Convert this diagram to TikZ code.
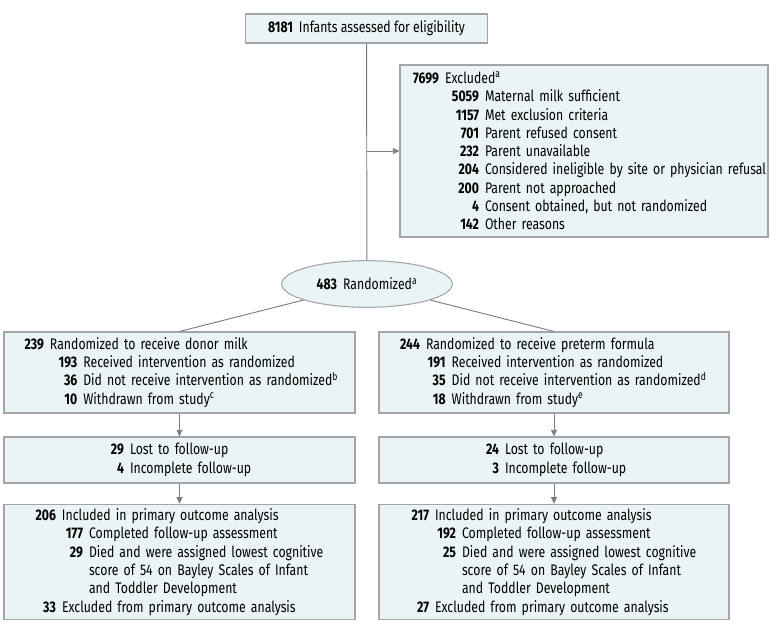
\documentclass[tikz,border=0pt]{standalone}
\usepackage{fontspec}
\setmainfont{Fira Sans}[FakeStretch=0.8]
\usepackage{xcolor}
\usepackage{tikz}
\usetikzlibrary{arrows.meta,positioning,shapes.geometric}

\definecolor{boxfill}{RGB}{234,243,245}
\definecolor{boxline}{RGB}{165,165,165}
\definecolor{connline}{RGB}{125,125,125}
% number right-aligned at #1 from the box edge, then the text
\newcommand{\nrow}[3]{\makebox[#1][r]{\bfseries #2}\hspace{4.5pt}#3}

\begin{document}
\begin{tikzpicture}[x=0.75pt, y=-0.75pt, >={Triangle[width=4.5pt,length=5pt]},
  every node/.style={font=\fontsize{11.5}{13.7}\selectfont},
  box/.style={draw=boxline, fill=boxfill, line width=0.8pt, inner xsep=0pt, align=left},
  oval/.style={ellipse, draw=boxline, fill=boxfill, line width=0.8pt, minimum width=128pt, minimum height=35pt, inner sep=0pt},
  conn/.style={draw=connline, line width=0.7pt}]
\useasboundingbox (0,0) rectangle (780,634);

\node[box, align=center, minimum width=182pt, minimum height=21.75pt] (elig) at (366.5,28.5) {\textbf{8181}\hspace{4.5pt}Infants assessed for eligibility};

\node[box, text width=276pt, minimum height=129pt] (excl) at (584,151) {%
\nrow{29.25pt}{7699}{Excluded\textsuperscript{a}}\\
\nrow{59.25pt}{5059}{Maternal milk sufficient}\\
\nrow{59.25pt}{1157}{Met exclusion criteria}\\
\nrow{59.25pt}{701}{Parent refused consent}\\
\nrow{59.25pt}{232}{Parent unavailable}\\
\nrow{59.25pt}{204}{Considered ineligible by site or physician refusal}\\
\nrow{59.25pt}{200}{Parent not approached}\\
\nrow{59.25pt}{4}{Consent obtained, but not randomized}\\
\nrow{59.25pt}{142}{Other reasons}};

\node[oval] (rand) at (367,284) {\textbf{483}\hspace{4.5pt}Randomized\textsuperscript{a}};

% donor milk arm
\node[box, text width=263.25pt, minimum height=60.75pt] (dm1) at (179.5,372.5) {%
\nrow{30pt}{239}{Randomized to receive donor milk}\\
\nrow{55pt}{193}{Received intervention as randomized}\\
\nrow{55pt}{36}{Did not receive intervention as randomized\textsuperscript{b}}\\
\nrow{55pt}{10}{Withdrawn from study\textsuperscript{c}}};
\node[box, text width=263.25pt, minimum height=34.5pt] (dm2) at (179.5,460) {%
\nrow{90pt}{29}{Lost to follow-up}\\
\nrow{90pt}{4}{Incomplete follow-up}};
\node[box, text width=263.25pt, minimum height=85.5pt] (dm3) at (179.5,562) {%
\nrow{39pt}{206}{Included in primary outcome analysis}\\
\nrow{59.25pt}{177}{Completed follow-up assessment}\\
\nrow{59.25pt}{29}{Died and were assigned lowest cognitive}\\
\nrow{59.25pt}{}{score of 54 on Bayley Scales of Infant}\\
\nrow{59.25pt}{}{and Toddler Development}\\
\nrow{39pt}{33}{Excluded from primary outcome analysis}};

% preterm formula arm
\node[box, text width=262.5pt, minimum height=60.75pt] (pf1) at (554,372.5) {%
\nrow{30.75pt}{244}{Randomized to receive preterm formula}\\
\nrow{50pt}{191}{Received intervention as randomized}\\
\nrow{50pt}{35}{Did not receive intervention as randomized\textsuperscript{d}}\\
\nrow{50pt}{18}{Withdrawn from study\textsuperscript{e}}};
\node[box, text width=262.5pt, minimum height=34.5pt] (pf2) at (554,460) {%
\nrow{90pt}{24}{Lost to follow-up}\\
\nrow{90pt}{3}{Incomplete follow-up}};
\node[box, text width=262.5pt, minimum height=85.5pt] (pf3) at (554,562) {%
\nrow{37.5pt}{217}{Included in primary outcome analysis}\\
\nrow{57.75pt}{192}{Completed follow-up assessment}\\
\nrow{57.75pt}{25}{Died and were assigned lowest cognitive}\\
\nrow{57.75pt}{}{score of 54 on Bayley Scales of Infant}\\
\nrow{57.75pt}{}{and Toddler Development}\\
\nrow{37.5pt}{27}{Excluded from primary outcome analysis}};

\coordinate (split) at (excl.west -| elig.south);
\draw[conn] (elig) -- (rand);
\draw[conn,->] (split) -- (excl.west);
\draw[conn] (rand) -- (dm1.north);
\draw[conn] (rand) -- (pf1.north);
\draw[conn,->] (dm1) -- (dm2);
\draw[conn,->] (dm2) -- (dm3);
\draw[conn,->] (pf1) -- (pf2);
\draw[conn,->] (pf2) -- (pf3);
\end{tikzpicture}
\end{document}
